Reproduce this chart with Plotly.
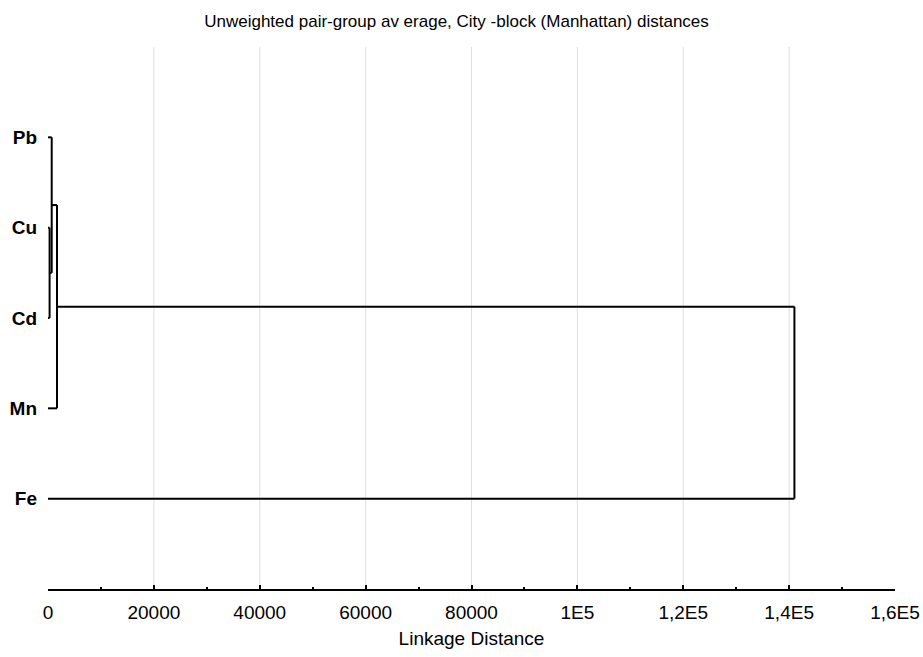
import plotly.graph_objects as go

# ---- data ----
leaf_names = ["Fe", "Mn", "Cd", "Cu", "Pb"]          # bottom -> top
join_first = [3, 4, 1, 0]                             # Cu, Pb, Mn, Fe
join_second = [2, 5, 6, 7]                            # Cd, (Cu,Cd), (Pb,Cu,Cd), (Mn,...)
join_distance = [300, 700, 1700, 141000]

x_tick_values = [0, 20000, 40000, 60000, 80000, 100000, 120000, 140000, 160000]
x_tick_labels = ["0", "20000", "40000", "60000", "80000", "1E5", "1,2E5", "1,4E5", "1,6E5"]

title_text = "Unweighted pair-group av erage, City -block (Manhattan) distances"
x_title = "Linkage Distance"

# ---- build dendrogram segments from linkage ----
node_y = {i: i + 1 for i in range(len(leaf_names))}
node_h = {i: 0 for i in range(len(leaf_names))}
xs, ys = [], []
for k, (a, b, d) in enumerate(zip(join_first, join_second, join_distance)):
    for c in (a, b):
        xs += [node_h[c], d, None]
        ys += [node_y[c], node_y[c], None]
    xs += [d, d, None]
    ys += [node_y[a], node_y[b], None]
    new = len(leaf_names) + k
    node_y[new] = (node_y[a] + node_y[b]) / 2
    node_h[new] = d

fig = go.Figure()
fig.add_trace(go.Scatter(x=xs, y=ys, mode="lines",
                         line=dict(color="black", width=2),
                         hoverinfo="skip", showlegend=False))

# light vertical gridlines (excluding axis ends)
for v in x_tick_values[1:-1]:
    fig.add_shape(type="line", xref="x", yref="paper", x0=v, x1=v, y0=0, y1=1,
                  line=dict(color="#dedede", width=1), layer="below")

font = "Liberation Sans, Arial, sans-serif"
fig.update_layout(
    width=923, height=657,
    margin=dict(l=48, r=28, t=47, b=68),
    paper_bgcolor="white", plot_bgcolor="white",
    title=dict(text=title_text, x=0.4946, xanchor="center", xref="container",
               y=1 - 21.5 / 657, yanchor="middle", yref="container",
               font=dict(family=font, size=17, color="black")),
    font=dict(family=font, color="black"),
)
fig.update_xaxes(
    range=[0, 160000], tickmode="array", tickvals=x_tick_values, ticktext=x_tick_labels,
    showgrid=False, zeroline=False,
    showline=True, linecolor="black", linewidth=2,
    ticks="inside", ticklen=4, tickwidth=2, tickcolor="black",
    minor=dict(tickmode="linear", tick0=0, dtick=10000, ticks="inside",
               ticklen=2, tickwidth=1.5, tickcolor="black", showgrid=False),
    tickfont=dict(family=font, size=19, color="black"),
    ticklabelstandoff=5,
    title=dict(text=x_title, font=dict(family=font, size=19, color="black"), standoff=10),
    automargin=False,
)
fig.update_yaxes(
    range=[0, 6], tickmode="array", tickvals=[node_y[i] for i in range(len(leaf_names))],
    ticktext=leaf_names, showgrid=False, zeroline=False, showline=False, ticks="",
    tickfont=dict(family=font, size=19, color="black", weight="bold"),
    ticklabelstandoff=10, automargin=False,
)

fig.write_html("out.html", config={"displayModeBar": False},
               post_script="document.body.style.margin='0';document.body.style.padding='0';")
